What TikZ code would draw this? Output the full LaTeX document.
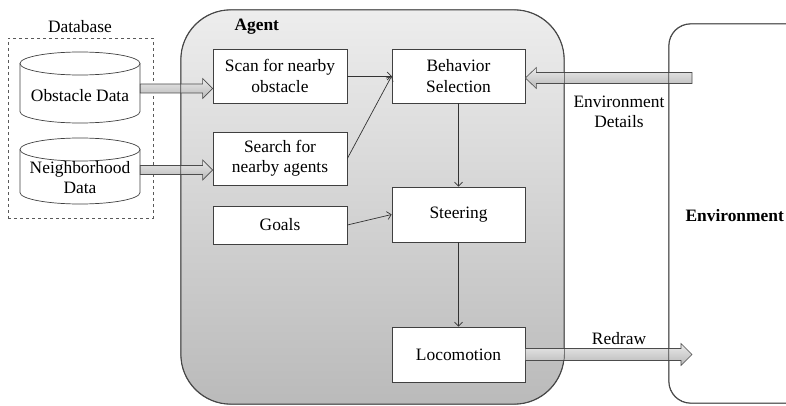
\documentclass[tikz,border=0pt]{standalone}
\usepackage{fontspec}
\setmainfont{Liberation Serif}
\usetikzlibrary{arrows.meta,calc}
\newcommand\blockarr[6]{%
  \draw[barrow] let \p1=#1, \p2=#2, \n1={\x2-(#3)*#6pt} in
   (\x1,\y1+#4pt) -- (\n1,\y1+#4pt) -- (\n1,\y1+#5pt) -- (\x2,\y1)
   -- (\n1,\y1-#5pt) -- (\n1,\y1-#4pt) -- (\x1,\y1-#4pt) -- cycle;}
\begin{document}
\begin{tikzpicture}[x=1pt,y=1pt,
  every node/.style={font=\fontsize{17.4}{20.5}\selectfont},
  bfnode/.style={font=\bfseries\fontsize{17.4}{20.5}\selectfont},
  box/.style={draw=black!75,line width=0.7pt,fill=white,minimum width=134pt,align=center,inner sep=0pt},
  ln/.style={draw=black!80,line width=0.7pt,-{Straight Barb[length=4pt,width=8pt]}},
  barrow/.style={draw=black!70,line width=0.6pt,top color=black!8,bottom color=black!28},
  cylst/.style={draw=black!75,line width=0.7pt,fill=white},
  outline/.style={draw=black!75,line width=0.7pt},
]
\useasboundingbox (0,0) rectangle (786,405);
\clip (0,0) rectangle (786,405);

% big containers
\node[outline,rounded corners=50pt,top color=black!7,bottom color=black!27,
  minimum width=383pt,minimum height=394pt,inner sep=0pt] (agent) at (372.5,198) {};
\node[outline,rounded corners=22pt,fill=white,minimum width=140pt,minimum height=379pt,inner sep=0pt] (env) at (739,191.5) {};
\node[draw=black!65,dashed,line width=0.6pt,minimum width=145pt,minimum height=180pt,inner sep=0pt] (db) at (80.5,277) {};
\node (dblbl) at (80,378) {Database};

% cylinders
\draw[cylst] (20,341.5) -- (20,293.5) arc[start angle=180,end angle=360,x radius=60,y radius=11.5]
  -- (140,341.5) arc[start angle=0,end angle=180,x radius=60,y radius=11.5] -- cycle;
\draw[outline] (20,341.5) arc[start angle=180,end angle=360,x radius=60,y radius=11.5];
\node[minimum width=120pt,inner sep=0pt] (obst) at (80,309) {Obstacle Data};

\draw[cylst] (20,255.5) -- (20,212.5) arc[start angle=180,end angle=360,x radius=60,y radius=11.5]
  -- (140,255.5) arc[start angle=0,end angle=180,x radius=60,y radius=11.5] -- cycle;
\draw[outline] (20,255.5) arc[start angle=180,end angle=360,x radius=60,y radius=11.5];
\node[minimum width=120pt,inner sep=0pt,align=center] (neigh) at (80,227.5) {Neighborhood\\Data};

% agent boxes
\node[bfnode,anchor=west] (agentlbl) at (231,378) {Agent};
\node[box,minimum height=54pt] (scan) at (280,329) {Scan for nearby\\obstacle};
\node[box,minimum height=53pt] (search) at (280,246.5) {Search for\\nearby agents};
\node[box,minimum height=38pt] (goals) at (280,180) {Goals};
\node[box,minimum width=133pt,minimum height=54pt] (behav) at (458.5,329) {Behavior\\Selection};
\node[box,minimum width=133pt,minimum height=55pt] (steer) at (458.5,190.5) {Steering};
\node[box,minimum width=133pt,minimum height=55pt] (loco) at (458.5,50.5) {Locomotion};

% environment labels
\node[bfnode,anchor=west] (envlbl) at (682,189) {Environment};
\node[align=center] (envdet) at (619,293) {Environment\\Details};
\node (redraw) at (619,66) {Redraw};
\coordinate (envin) at (692,327);
\coordinate (envout) at (692,51);

% thin arrows
\draw[ln] (scan.east) -- (behav.west);
\draw[ln] (search.east) -- (behav.west);
\draw[ln] (goals.east) -- (steer.west);
\draw[ln] (behav.south) -- (steer.north);
\draw[ln] (steer.south) -- (loco.north);

% block arrows
\blockarr{($(obst.east)+(0,7.5)$)}{(scan.west)}{1}{4.5}{10}{10}
\blockarr{($(neigh.east)+(0,7.5)$)}{(search.west)}{1}{4.5}{10}{10}
\blockarr{(envin)}{(behav.east)}{-1}{5.5}{10.5}{11}
\blockarr{(loco.east)}{(envout)}{1}{6}{11}{11}

% container outlines over arrows
\draw[outline,rounded corners=50pt] (agent.south west) rectangle (agent.north east);
\draw[outline,rounded corners=22pt] (env.south west) rectangle (env.north east);
\end{tikzpicture}
\end{document}
